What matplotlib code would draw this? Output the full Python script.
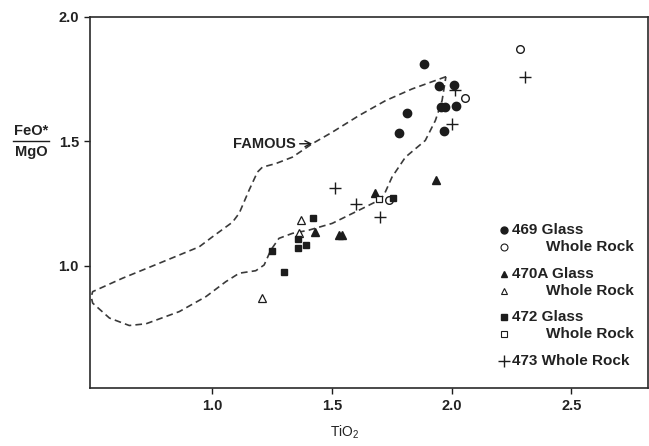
import numpy as np
import matplotlib
matplotlib.use("Agg")
import matplotlib.pyplot as plt

plt.rcParams['font.family'] = ['Liberation Sans', 'DejaVu Sans']
plt.rcParams['mathtext.fontset'] = 'custom'
plt.rcParams['mathtext.rm'] = 'Liberation Sans'
plt.rcParams['mathtext.it'] = 'Liberation Sans:italic'

INK = '#1c1c1c'

# ----------------------------
# data (TiO2, FeO*/MgO)
# ----------------------------
glass469_x = [1.886, 1.946, 2.010, 1.957, 1.971, 2.018, 1.815, 1.782, 1.967]
glass469_y = [1.813, 1.721, 1.725, 1.640, 1.640, 1.643, 1.613, 1.535, 1.544]
wr469_x = [2.286, 2.057, 1.738]
wr469_y = [1.871, 1.673, 1.264]

glass470a_x = [1.935, 1.679, 1.429, 1.529, 1.543]
glass470a_y = [1.347, 1.293, 1.137, 1.126, 1.126]
wr470a_x = [1.372, 1.363, 1.207]
wr470a_y = [1.184, 1.131, 0.872]

glass472_x = [1.755, 1.421, 1.360, 1.360, 1.390, 1.251, 1.300]
glass472_y = [1.273, 1.192, 1.109, 1.073, 1.083, 1.059, 0.976]
wr472_x = [1.696]
wr472_y = [1.267]

wr473_x = [2.307, 2.015, 2.001, 1.513, 1.601, 1.700]
wr473_y = [1.757, 1.707, 1.571, 1.315, 1.248, 1.197]

# FAMOUS field outline (closed)
famous_x = [1.976, 1.835, 1.724, 1.613, 1.501, 1.418, 1.335, 1.265, 1.210, 1.189,
            1.154, 1.113, 1.085, 1.001, 0.946, 0.779, 0.626, 0.501, 0.495,
            0.501, 0.571, 0.654, 0.724, 0.863, 0.974, 1.057, 1.113, 1.182, 1.217,
            1.245, 1.279, 1.335, 1.404, 1.501, 1.613, 1.696, 1.717, 1.751, 1.807,
            1.890, 1.932, 1.960, 1.976]
famous_y = [1.760, 1.711, 1.664, 1.604, 1.537, 1.491, 1.437, 1.411, 1.397, 1.377,
            1.304, 1.212, 1.176, 1.117, 1.077, 1.011, 0.951, 0.897, 0.876,
            0.851, 0.791, 0.761, 0.768, 0.817, 0.877, 0.937, 0.971, 0.981, 1.004,
            1.064, 1.111, 1.131, 1.144, 1.171, 1.224, 1.264, 1.284, 1.357, 1.437,
            1.504, 1.584, 1.664, 1.760]

xticks = [1.0, 1.5, 2.0, 2.5]
yticks = [1.0, 1.5, 2.0]

W, H = 649, 446


def px(x, y):
    # pixel position -> figure fraction
    return x / W, 1 - y / H


fig = plt.figure(figsize=(W / 100, H / 100), dpi=100)
ax = fig.add_axes([0.1387, 0.130, 0.8598, 0.832])

ax.plot(famous_x, famous_y, ls=(0, (4, 2.5)), color='#3a3a3a', lw=1.2)

ax.plot(glass469_x, glass469_y, 'o', ms=6, color=INK, mec=INK)
ax.plot(wr469_x, wr469_y, 'o', ms=5.5, mfc='white', mec=INK, mew=1.0)
ax.plot(glass470a_x, glass470a_y, '^', ms=5.5, color=INK)
ax.plot(wr470a_x, wr470a_y, '^', ms=6, mfc='white', mec=INK, mew=0.9)
ax.plot(glass472_x, glass472_y, 's', ms=5, color=INK)
ax.plot(wr472_x, wr472_y, 's', ms=5, mfc='white', mec=INK, mew=0.9)
ax.plot(wr473_x, wr473_y, '+', ms=8, color=INK, mew=1.0)

ax.set_xlim(0.49, 2.82)
ax.set_ylim(0.51, 2.0)
ax.set_xticks(xticks)
ax.set_yticks(yticks)
ax.set_xticklabels([f'{v:.1f}' for v in xticks], fontsize=10.5, fontweight='bold', color='#222222')
ax.set_yticklabels([f'{v:.1f}' for v in yticks], fontsize=10.5, fontweight='bold', color='#222222')
ax.tick_params(direction='out', length=4, width=1.0, color=INK, pad=4)
for s in ax.spines.values():
    s.set_linewidth(1.2)
    s.set_color('#2a2a2a')

# FAMOUS label with arrow
ax.annotate('FAMOUS', xy=(1.418, 1.491), xytext=(1.348, 1.49),
            ha='right', va='center', fontsize=10.5, fontweight='bold', color='#222222',
            arrowprops=dict(arrowstyle='->', color=INK, lw=1.0, shrinkA=1, shrinkB=0))

# axis labels
fig.text(*px(345, 432), 'TiO$_2$', ha='center', va='center', fontsize=10, color='#222222')
fig.text(*px(31, 131), 'FeO*', ha='center', va='center', fontsize=10.5, fontweight='bold', color='#222222')
fig.text(*px(31, 152), 'MgO', ha='center', va='center', fontsize=10.5, fontweight='bold', color='#222222')
x0, y0 = px(13, 141)
x1, _ = px(49, 141)
fig.add_artist(plt.Line2D([x0, x1], [y0, y0], color=INK, lw=1.0))

# legend
legend_rows = [
    (230, 'o', True, '469 Glass', 512),
    (247, 'o', False, 'Whole Rock', 546),
    (274, '^', True, '470A Glass', 512),
    (291, '^', False, 'Whole Rock', 546),
    (317, 's', True, '472 Glass', 512),
    (334, 's', False, 'Whole Rock', 546),
    (361, '+', True, '473 Whole Rock', 512),
]
for ypx, mk, filled, label, tx in legend_rows:
    mx, my = px(504, ypx)
    if mk == '+':
        ax.plot([mx], [my], '+', ms=8, color=INK, mew=1.0, transform=fig.transFigure, clip_on=False)
    elif filled:
        ax.plot([mx], [my], mk, ms=5, color=INK, transform=fig.transFigure, clip_on=False)
    else:
        ax.plot([mx], [my], mk, ms=5, mfc='white', mec=INK, mew=0.8,
                transform=fig.transFigure, clip_on=False)
    fig.text(*px(tx, ypx), label, ha='left', va='center', fontsize=11,
             fontweight='bold', color='#222222')

fig.savefig('out.png', dpi=100)
